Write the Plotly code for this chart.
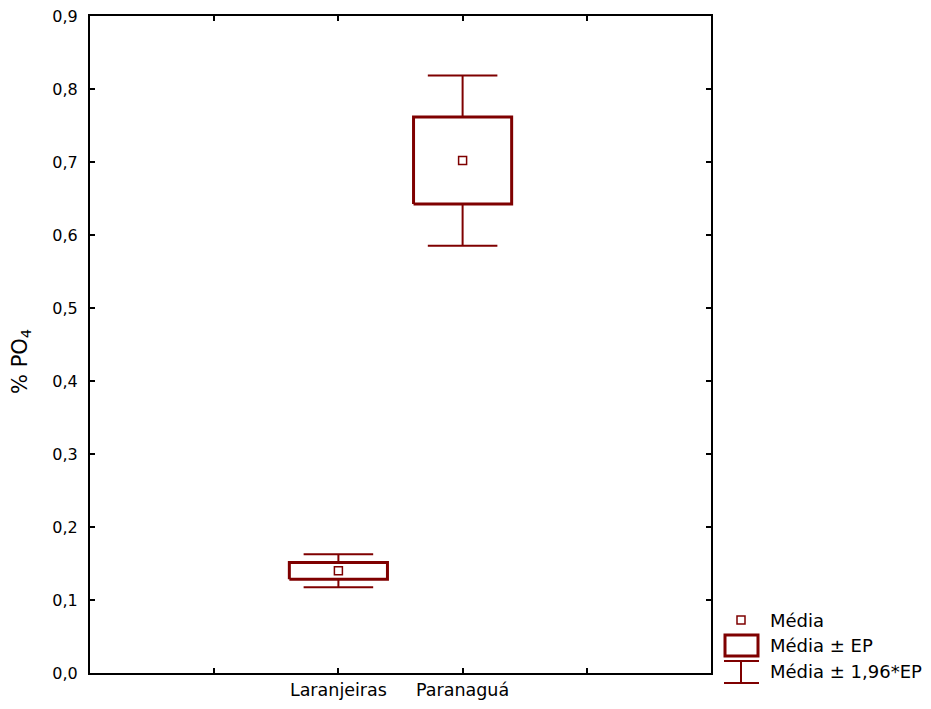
import plotly.graph_objects as go

# Data: mean % PO4 and standard error per site
categories = ["Laranjeiras", "Paranaguá"]
means = [0.140, 0.702]
std_errs = [0.0115, 0.0595]
ci_factor = 1.96

y_ticks = [0.0, 0.1, 0.2, 0.3, 0.4, 0.5, 0.6, 0.7, 0.8, 0.9]

RED = "#7f0000"
FONT = "DejaVu Sans, Arial, sans-serif"

box_half = 0.395
cap_half = 0.28
xs = [1, 2]

fig = go.Figure()

# Mean ± SE boxes
bx, by = [], []
for x, m, se in zip(xs, means, std_errs):
    lo, hi = m - se, m + se
    bx += [x - box_half, x + box_half, x + box_half, x - box_half, x - box_half, None]
    by += [lo, lo, hi, hi, lo, None]
fig.add_trace(go.Scatter(x=bx, y=by, mode="lines", line=dict(color=RED, width=3),
                         hoverinfo="skip", showlegend=False))

# Mean ± 1.96*SE whiskers
wx, wy = [], []
for x, m, se in zip(xs, means, std_errs):
    lo, hi = m - se, m + se
    wlo, whi = m - ci_factor * se, m + ci_factor * se
    wx += [x, x, None, x - cap_half, x + cap_half, None,
           x, x, None, x - cap_half, x + cap_half, None]
    wy += [hi, whi, None, whi, whi, None,
           lo, wlo, None, wlo, wlo, None]
fig.add_trace(go.Scatter(x=wx, y=wy, mode="lines", line=dict(color=RED, width=2),
                         hoverinfo="skip", showlegend=False))

# Mean markers
fig.add_trace(go.Scatter(x=xs, y=means, mode="markers",
                         marker=dict(symbol="square", size=8, color="white",
                                     line=dict(color=RED, width=1.5)),
                         showlegend=False))

# Plot-area pixel geometry used for the hand-drawn legend
L, R, T, B = 90, 711, 16, 673


def px(xp):
    return (xp - L) / (R - L)


def py(yp):
    return (B - yp) / (B - T)


shapes = []
# legend: mean marker
shapes.append(dict(type="rect", xref="paper", yref="paper",
                   x0=px(737), x1=px(745), y0=py(624), y1=py(616),
                   line=dict(color=RED, width=1.5), fillcolor="white"))
# legend: box
shapes.append(dict(type="rect", xref="paper", yref="paper",
                   x0=px(725), x1=px(758), y0=py(656), y1=py(635),
                   line=dict(color=RED, width=3), fillcolor="white"))
# legend: whisker
for seg in [(724, 661, 759, 661), (741, 661, 741, 683), (724, 683, 759, 683)]:
    shapes.append(dict(type="line", xref="paper", yref="paper",
                       x0=px(seg[0]), y0=py(seg[1]), x1=px(seg[2]), y1=py(seg[3]),
                       line=dict(color=RED, width=2)))

annotations = []
for text, yp in [("Média", 620), ("Média ± EP", 645), ("Média ± 1,96*EP", 671)]:
    annotations.append(dict(text=text, xref="paper", yref="paper",
                            x=px(768), y=py(yp), xanchor="left", yanchor="middle",
                            showarrow=False, font=dict(family=FONT, size=18, color="black")))
annotations.append(dict(text="% PO<sub>4</sub>", xref="paper", yref="paper",
                        x=px(21), y=py(362), xanchor="center", yanchor="middle",
                        textangle=-90, showarrow=False,
                        font=dict(family=FONT, size=21, color="black")))

fig.update_layout(
    width=931, height=709,
    margin=dict(l=L, r=931 - R, t=T, b=709 - B, autoexpand=False),
    paper_bgcolor="white", plot_bgcolor="white",
    separators=", ",
    font=dict(family=FONT, size=16, color="black"),
    shapes=shapes, annotations=annotations,
    showlegend=False,
)
fig.update_xaxes(range=[-1, 4], tickmode="array", tickvals=xs, ticktext=categories,
                 ticks="inside", ticklen=5, tickwidth=1.5, tickcolor="black",
                 minor=dict(tick0=0, dtick=1, ticks="inside", ticklen=5, tickwidth=1.5,
                            tickcolor="black", showgrid=False),
                 showline=True, linecolor="black", linewidth=2, mirror="ticks",
                 showgrid=False, zeroline=False, tickfont=dict(size=17.5),
                 automargin=False)
fig.update_yaxes(range=[0, 0.9], tickmode="array", tickvals=y_ticks, tickformat=".1f",
                 ticks="inside", ticklen=5, tickwidth=1.5, tickcolor="black",
                 showline=True, linecolor="black", linewidth=2, mirror="ticks",
                 showgrid=False, zeroline=False, tickfont=dict(size=16),
                 ticklabelstandoff=7, automargin=False)

fig.write_html("out.html")
